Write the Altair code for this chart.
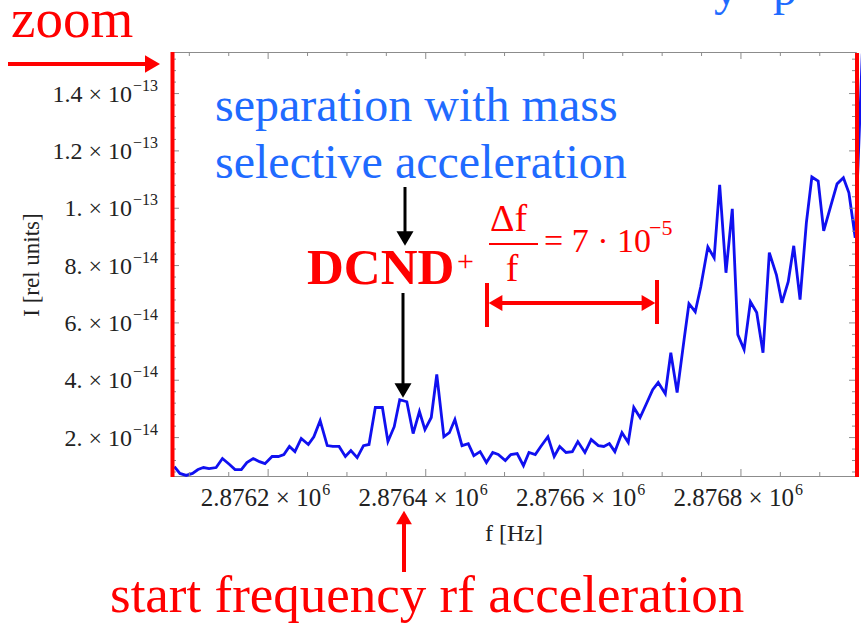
import altair as alt
import pandas as pd
import numpy as np

# ---------------- data ----------------
freq_hz = [2876081, 2876088, 2876096, 2876104, 2876111, 2876118, 2876125, 2876134,
           2876142, 2876151, 2876158, 2876166, 2876173, 2876181, 2876189, 2876196,
           2876205, 2876213, 2876220, 2876227, 2876234, 2876242, 2876251, 2876258,
           2876266, 2876275, 2876282, 2876290, 2876298, 2876305, 2876313, 2876321,
           2876328, 2876336, 2876345, 2876352, 2876360, 2876367, 2876376, 2876384,
           2876392, 2876399, 2876407, 2876414, 2876423, 2876430, 2876437, 2876446,
           2876454, 2876461, 2876469, 2876477, 2876485, 2876492, 2876501, 2876508,
           2876516, 2876524, 2876531, 2876539, 2876546, 2876555, 2876563, 2876570,
           2876578, 2876586, 2876593, 2876602, 2876610, 2876619, 2876626, 2876633,
           2876640, 2876649, 2876657, 2876664, 2876672, 2876680, 2876688, 2876695,
           2876704, 2876711, 2876719, 2876728, 2876734, 2876742, 2876749, 2876758,
           2876766, 2876773, 2876781, 2876789, 2876796, 2876804, 2876812, 2876820,
           2876828, 2876836, 2876845, 2876852, 2876860, 2876867, 2876875, 2876883,
           2876890, 2876898, 2876905, 2876914, 2876922, 2876930, 2876937, 2876945,
           2876954]
# intensity in units of 1e-14 (rel units)
intensity_e14 = [0.99, 0.75, 0.68, 0.75, 0.885, 0.955, 0.92, 0.955,
                 1.27, 1.06, 0.885, 0.885, 1.13, 1.27, 1.16, 1.09,
                 1.34, 1.34, 1.41, 1.69, 1.51, 1.97, 1.76, 2.03,
                 2.59, 1.72, 1.69, 1.69, 1.34, 1.55, 1.30, 1.72,
                 1.76, 3.05, 3.05, 1.86, 2.38, 3.32, 3.25, 2.14,
                 2.91, 2.28, 2.70, 4.20, 2.03, 2.17, 2.63, 1.72,
                 1.79, 1.37, 1.51, 1.13, 1.48, 1.41, 1.20, 1.41,
                 1.44, 1.02, 1.48, 1.41, 1.69, 2.03, 1.34, 1.69,
                 1.48, 1.51, 1.86, 1.48, 1.93, 1.72, 1.69, 1.79,
                 1.51, 2.17, 1.83, 3.05, 2.70, 3.18, 3.67, 3.92,
                 3.53, 4.96, 3.57, 5.45, 6.67, 6.39, 7.26, 8.65,
                 8.27, 10.82, 7.75, 9.98, 5.59, 5.07, 6.74, 6.36,
                 4.96, 8.45, 7.68, 6.70, 7.44, 8.69, 6.81, 9.49,
                 11.09, 10.95, 9.21, 10.08, 10.85, 11.06, 10.54, 8.97,
                 15.4]

x_label_values = [2876200, 2876400, 2876600, 2876800]
x_label_main = ["2.8762 × 10", "2.8764 × 10", "2.8766 × 10", "2.8768 × 10"]
x_label_exp = ["6", "6", "6", "6"]
y_label_values = [2, 4, 6, 8, 10, 12, 14]
y_label_main = ["2. × 10", "4. × 10", "6. × 10", "8. × 10", "1. × 10", "1.2 × 10", "1.4 × 10"]
y_label_exp = ["−14", "−14", "−14", "−14", "−13", "−13", "−13"]
x_tick_values = [2876100, 2876150, 2876200, 2876250, 2876300, 2876350, 2876400,
                 2876450, 2876500, 2876550, 2876600, 2876650, 2876700, 2876750,
                 2876800, 2876850, 2876900]
y_tick_values = [0.8, 1.2, 1.6, 2.0, 2.4, 2.8, 3.2, 3.6, 4.0, 4.4, 4.8, 5.2, 5.6,
                 6.0, 6.4, 6.8, 7.2, 7.6, 8.0, 8.4, 8.8, 9.2, 9.6, 10.0, 10.4,
                 10.8, 11.2, 11.6, 12.0, 12.4, 12.8, 13.2, 13.6, 14.0, 14.4, 14.8,
                 15.2]

X_DOMAIN = [2876078, 2876946]
Y_DOMAIN = [0.66, 15.45]

# ---------------- layout ----------------
OX, OY = 172, 52          # plot origin in the page
W, H = 684, 424           # plot area
FONT = "Liberation Serif"
RED = "#ff0000"
BLUE_TXT = "#1f6bff"
FRAME = "#8c8c8c"
LBL = "#222222"

xs = alt.Scale(domain=X_DOMAIN, nice=False, zero=False)
ys = alt.Scale(domain=Y_DOMAIN, nice=False, zero=False)

df = pd.DataFrame({"f": freq_hz, "I": intensity_e14})

line = alt.Chart(df).mark_line(color="#1010f0", strokeWidth=2.8, clip=False).encode(
    x=alt.X("f:Q", scale=xs, axis=None),
    y=alt.Y("I:Q", scale=ys, axis=None),
)

# tick labels (Mathematica-style with real superscripts)
xl = pd.DataFrame({"f": x_label_values, "main": x_label_main, "exp": x_label_exp})
yl = pd.DataFrame({"I": y_label_values, "main": y_label_main, "exp": y_label_exp})

x_main = alt.Chart(xl).mark_text(font=FONT, fontSize=25, color=LBL, align="right",
                                 baseline="alphabetic", dx=53).encode(
    x=alt.X("f:Q", scale=xs), y=alt.value(H + 30), text="main:N")
x_exp = alt.Chart(xl).mark_text(font=FONT, fontSize=16, color=LBL, align="left",
                                baseline="alphabetic", dx=54).encode(
    x=alt.X("f:Q", scale=xs), y=alt.value(H + 19), text="exp:N")
y_main = alt.Chart(yl).mark_text(font=FONT, fontSize=24, color=LBL, align="right",
                                 baseline="alphabetic", dy=8).encode(
    y=alt.Y("I:Q", scale=ys), x=alt.value(132 - OX), text="main:N")
y_exp = alt.Chart(yl).mark_text(font=FONT, fontSize=16, color=LBL, align="left",
                                baseline="alphabetic", dy=-3).encode(
    y=alt.Y("I:Q", scale=ys), x=alt.value(133 - OX), text="exp:N")

# inward frame ticks
xt = pd.DataFrame({"f": x_tick_values})
xt["major"] = xt["f"].isin(x_label_values)
yt = pd.DataFrame({"I": y_tick_values})
yt["major"] = yt["I"].round(1).isin([float(v) for v in y_label_values])

def xticks(y0, sign):
    out = []
    for major, ln in [(True, 7), (False, 4)]:
        out.append(alt.Chart(xt[xt["major"] == major]).mark_rule(color=FRAME, strokeWidth=1).encode(
            x=alt.X("f:Q", scale=xs), y=alt.value(y0), y2=alt.value(y0 + sign * ln)))
    return out

def yticks(x0, sign):
    out = []
    for major, ln in [(True, 7), (False, 4)]:
        out.append(alt.Chart(yt[yt["major"] == major]).mark_rule(color=FRAME, strokeWidth=1).encode(
            y=alt.Y("I:Q", scale=ys), x=alt.value(x0), x2=alt.value(x0 + sign * ln)))
    return out

ticks = xticks(H, -1) + xticks(0, 1) + yticks(0, 1) + yticks(W, -1)

one = pd.DataFrame({"a": [0]})

def rx(x):
    return x - OX

def ry(y):
    return y - OY

def text(t, x, y, size, color, align="left", weight="normal", angle=0, baseline="alphabetic"):
    kw = dict(text=t, font=FONT, fontSize=size, color=color, align=align,
              fontWeight=weight, baseline=baseline)
    if angle:
        kw["angle"] = angle
    return alt.Chart(one).mark_text(**kw).encode(x=alt.value(rx(x)), y=alt.value(ry(y)))

def seg(x1, y1, x2, y2, color, w=4):
    return alt.Chart(one).mark_rule(color=color, strokeWidth=w).encode(
        x=alt.value(rx(x1)), x2=alt.value(rx(x2)), y=alt.value(ry(y1)), y2=alt.value(ry(y2)))

def head(x, y, shape, size, color):
    return alt.Chart(one).mark_point(shape=shape, size=size, filled=True, opacity=1,
                                     color=color, strokeWidth=0).encode(
        x=alt.value(rx(x)), y=alt.value(ry(y)))

ann = [
    # red frame edges
    seg(172.5, 52, 172.5, 477, RED, 4),
    seg(857, 53, 857, 477, RED, 4),
    # zoom label and arrow
    text("zoom", 11, 37, 55, RED),
    seg(8, 64, 146, 64, RED, 4),
    head(152.5, 64, "triangle-right", 300, RED),
    # fragment of a cut-off title at the top
    text("y", 714, 5, 48, BLUE_TXT),
    text("p", 773, 5, 48, BLUE_TXT),
    # blue label
    text("separation with mass", 215, 121, 48, BLUE_TXT),
    text("selective acceleration", 215, 178, 48, BLUE_TXT),
    # black arrows
    seg(405, 187, 405, 234, "black", 3),
    head(405, 238.5, "triangle-down", 290, "black"),
    seg(403, 293, 403, 386, "black", 3),
    head(403, 390.5, "triangle-down", 290, "black"),
    # DCND+
    text("DCND", 307, 284, 51, RED, weight="bold"),
    text("+", 457, 271, 30, RED),
    # delta f / f
    text("Δf", 490, 231, 38, RED),
    seg(489, 244, 538, 244, RED, 2),
    text("f", 512, 281, 38, RED, align="center"),
    text("= 7 · 10", 544, 252, 34, RED),
    text("−5", 649, 235, 22, RED),
    # double arrow
    seg(498, 303, 646, 303, RED, 4),
    head(495.5, 303, "triangle-left", 250, RED),
    head(648.5, 303, "triangle-right", 250, RED),
    seg(487, 283, 487, 327, RED, 4),
    seg(657, 280, 657, 324, RED, 4),
    # bottom arrow and label
    seg(404, 520, 404, 572, RED, 4),
    head(404, 517.5, "triangle-up", 250, RED),
    text("start frequency rf acceleration", 110, 612, 53, RED),
    # axis titles
    text("f [Hz]", 514, 541, 24, LBL, align="center"),
    text("I [rel units]", 32, 265, 23, LBL, align="center", angle=270, baseline="middle"),
]

chart = alt.layer(line, *ticks, x_main, x_exp, y_main, y_exp, *ann).properties(
    width=W, height=H,
    padding={"left": OX, "top": OY, "right": 861 - OX - W, "bottom": 627 - OY - H},
    autosize=alt.AutoSizeParams(type="none"),
    background="white",
).configure_view(stroke=FRAME, strokeWidth=1)

chart.save("out.html", embed_options={"renderer": "svg", "actions": False})
